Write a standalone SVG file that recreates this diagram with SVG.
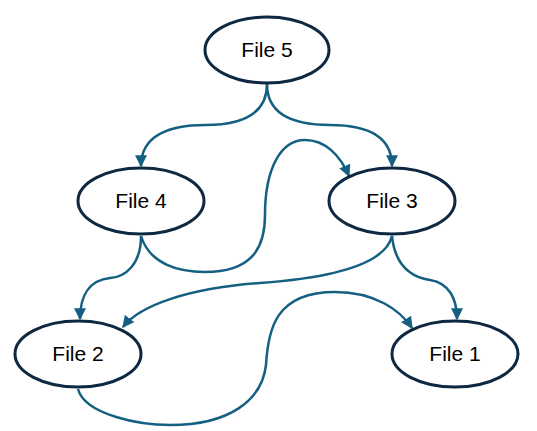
<svg xmlns="http://www.w3.org/2000/svg" width="537" height="431" viewBox="0 0 537 431">
  <style>
    .node ellipse { fill: #ffffff; stroke: #0e2841; stroke-width: 3; }
    .node text { font-family: "Liberation Sans", Arial, sans-serif; font-size: 21px; fill: #000000; text-anchor: middle; }
    .edge { fill: none; stroke: #156082; stroke-width: 2.5; marker-end: url(#arrow); }
  </style>
  <defs>
    <marker id="arrow" viewBox="0 0 10 10" refX="9" refY="5" markerWidth="12" markerHeight="12" markerUnits="userSpaceOnUse" orient="auto">
      <path d="M0,0 L10,5 L0,10 z" fill="#156082"/>
    </marker>
  </defs>

  <!-- connectors -->
  <g id="edges">
    <path class="edge" d="M267,84 C267,115 240,125 205,125 C170,125 141,135 141,166"/>
    <path class="edge" d="M267,84 C267,115 295,125 330,125 C365,125 392,135 392,166"/>
    <path class="edge" d="M141,236 C150,265 180,272 205,272 C250,272 265,250 265,215 C265,170 280,140 305,140 C325,140 340,155 349,176"/>
    <path class="edge" d="M141,236 C141,265 125,277 110,278 C90,280 80,295 80,319"/>
    <path class="edge" d="M392,236 C385,265 330,278 260,283 C190,288 140,305 123,327"/>
    <path class="edge" d="M392,236 C395,265 410,277 430,280 C450,283 457,300 457,319"/>
    <path class="edge" d="M78,389 C85,415 140,425 170,425 C230,425 262,400 266,365 C268,330 275,292 335,292 C375,292 400,310 412,328"/>
  </g>

  <g id="file5" class="node">
    <ellipse cx="267" cy="50" rx="62" ry="33"/>
    <text x="267" y="57">File 5</text>
  </g>
  <g id="file4" class="node">
    <ellipse cx="141" cy="201" rx="63" ry="33"/>
    <text x="141" y="208">File 4</text>
  </g>
  <g id="file3" class="node">
    <ellipse cx="392" cy="201" rx="63" ry="33"/>
    <text x="392" y="208">File 3</text>
  </g>
  <g id="file2" class="node">
    <ellipse cx="78" cy="354" rx="63" ry="33"/>
    <text x="78" y="361">File 2</text>
  </g>
  <g id="file1" class="node">
    <ellipse cx="455" cy="354" rx="63" ry="33"/>
    <text x="455" y="361">File 1</text>
  </g>
</svg>
